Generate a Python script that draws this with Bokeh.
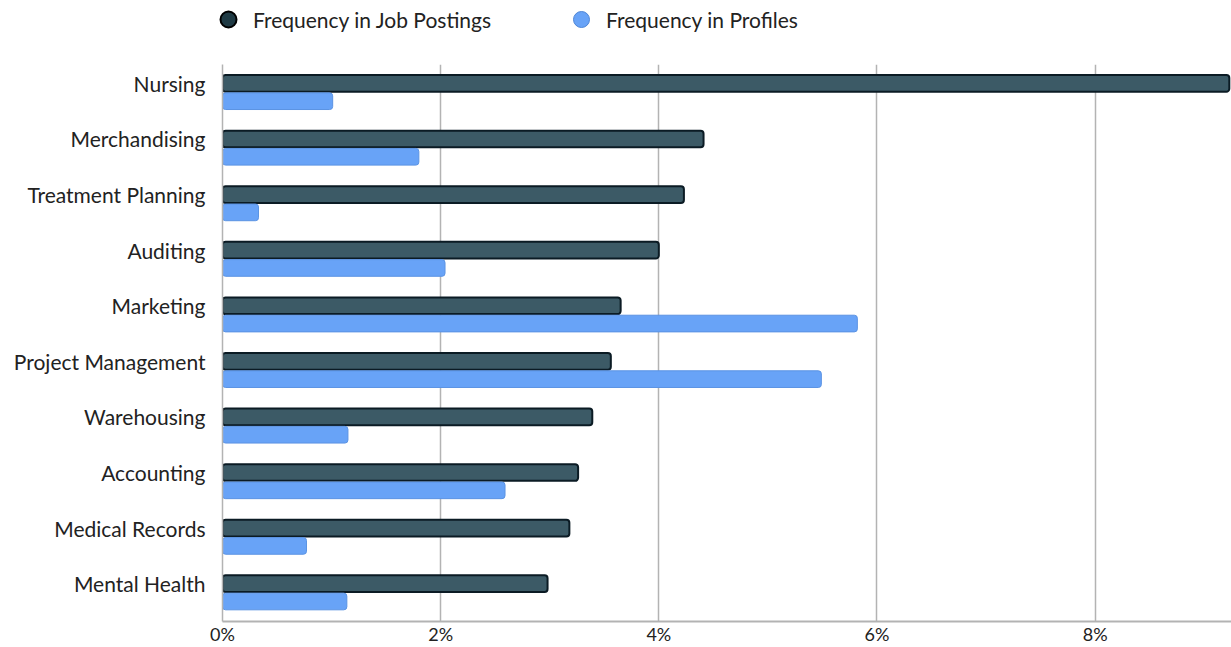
from bokeh.plotting import figure
from bokeh.layouts import column
from bokeh.models import ColumnDataSource, FixedTicker, PrintfTickFormatter, Legend, LegendItem, Range1d
from bokeh.transform import dodge
from bokeh.embed import file_html
from bokeh.resources import INLINE

categories = ["Nursing", "Merchandising", "Treatment Planning", "Auditing", "Marketing",
              "Project Management", "Warehousing", "Accounting", "Medical Records", "Mental Health"]
job_postings = [9.23, 4.41, 4.23, 4.00, 3.65, 3.56, 3.39, 3.26, 3.18, 2.98]
profiles = [1.01, 1.80, 0.33, 2.04, 5.82, 5.49, 1.15, 2.59, 0.77, 1.14]
x_ticks = [0, 2, 4, 6, 8]
series_names = ["Frequency in Job Postings", "Frequency in Profiles"]

n = len(categories)
ypos = [n - 1 - i for i in range(n)]
src = ColumnDataSource(dict(cat=categories, y=ypos, job=job_postings, prof=profiles))

FONT = "Lato"
DARK_FILL, DARK_LINE = "#3c5a66", "#0b1b24"
LIGHT_FILL, LIGHT_LINE = "#68a3f7", "#5b93e3"

# legend strip
lg = figure(width=1231, height=64, output_backend="svg", toolbar_location=None,
            x_range=Range1d(0, 1), y_range=Range1d(0, 1),
            min_border_left=0, min_border_right=0, min_border_top=0, min_border_bottom=0)
frame_aligned = "frame_align" in lg.properties()
if frame_aligned:
    lg.frame_align = False
lg.axis.visible = False
lg.grid.visible = False
lg.outline_line_color = None
nan = float("nan")
dummy = ColumnDataSource(dict(x=[nan], y=[nan]))
r1 = lg.scatter("x", "y", source=dummy, marker="circle", size=16,
                fill_color="#1f3a44", line_color="#000000", line_width=2)
r2 = lg.scatter("x", "y", source=dummy, marker="circle", size=16,
                fill_color=LIGHT_FILL, line_color="#4f86d6", line_width=1)
legend = Legend(items=[LegendItem(label=series_names[0], renderers=[r1]),
                       LegendItem(label=series_names[1], renderers=[r2])],
                orientation="horizontal", location=(208 if frame_aligned else -14, 25),
                glyph_width=40, glyph_height=40,
                label_standoff=5, spacing=70, padding=0, margin=0, border_line_color=None,
                background_fill_alpha=0, label_text_font=FONT, label_text_font_size="21px",
                label_text_color="#222222")
lg.add_layout(legend, "center")

# main chart
p = figure(width=1231, height=583, output_backend="svg", toolbar_location=None,
           y_range=Range1d(-0.68, n - 1 + 0.34), x_range=Range1d(0, 9.25),
           min_border_left=222, min_border_right=0, min_border_top=0, min_border_bottom=21)
p.outline_line_color = None

p.hbar(y="y", right="job", left=0, height=0.30, source=src,
       fill_color=DARK_FILL, line_color=DARK_LINE, line_width=2, border_radius=3)
p.hbar(y=dodge("y", -0.32), right="prof", left=0, height=0.30, source=src,
       fill_color=LIGHT_FILL, line_color=LIGHT_LINE, line_width=1, border_radius=3)

p.xgrid.grid_line_color = "#b3b3b3"
p.xgrid.grid_line_width = 1.5
p.ygrid.grid_line_color = None
p.xaxis.ticker = FixedTicker(ticks=x_ticks)
p.xaxis.formatter = PrintfTickFormatter(format="%d%%")
p.xaxis.axis_line_color = "#b3b3b3"
p.xaxis.axis_line_width = 2
p.xaxis.major_tick_line_color = None
p.xaxis.minor_tick_line_color = None
p.xaxis.major_tick_out = 0
p.xaxis.major_tick_in = 0
p.xaxis.major_label_standoff = 1
p.xaxis.major_label_text_font = FONT
p.xaxis.major_label_text_font_size = "18px"
p.xaxis.major_label_text_color = "#222222"

p.yaxis.ticker = FixedTicker(ticks=ypos)
p.yaxis.major_label_overrides = {y: c for y, c in zip(ypos, categories)}
p.yaxis.axis_line_color = "#b3b3b3"
p.yaxis.axis_line_width = 1.5
p.yaxis.major_tick_line_color = None
p.yaxis.minor_tick_line_color = None
p.yaxis.major_tick_out = 0
p.yaxis.major_tick_in = 0
p.yaxis.major_label_standoff = 17
p.yaxis.major_label_text_font = FONT
p.yaxis.major_label_text_font_size = "21px"
p.yaxis.major_label_text_color = "#222222"

layout = column(lg, p, spacing=0)
open("out.html", "w").write(file_html(layout, INLINE))
